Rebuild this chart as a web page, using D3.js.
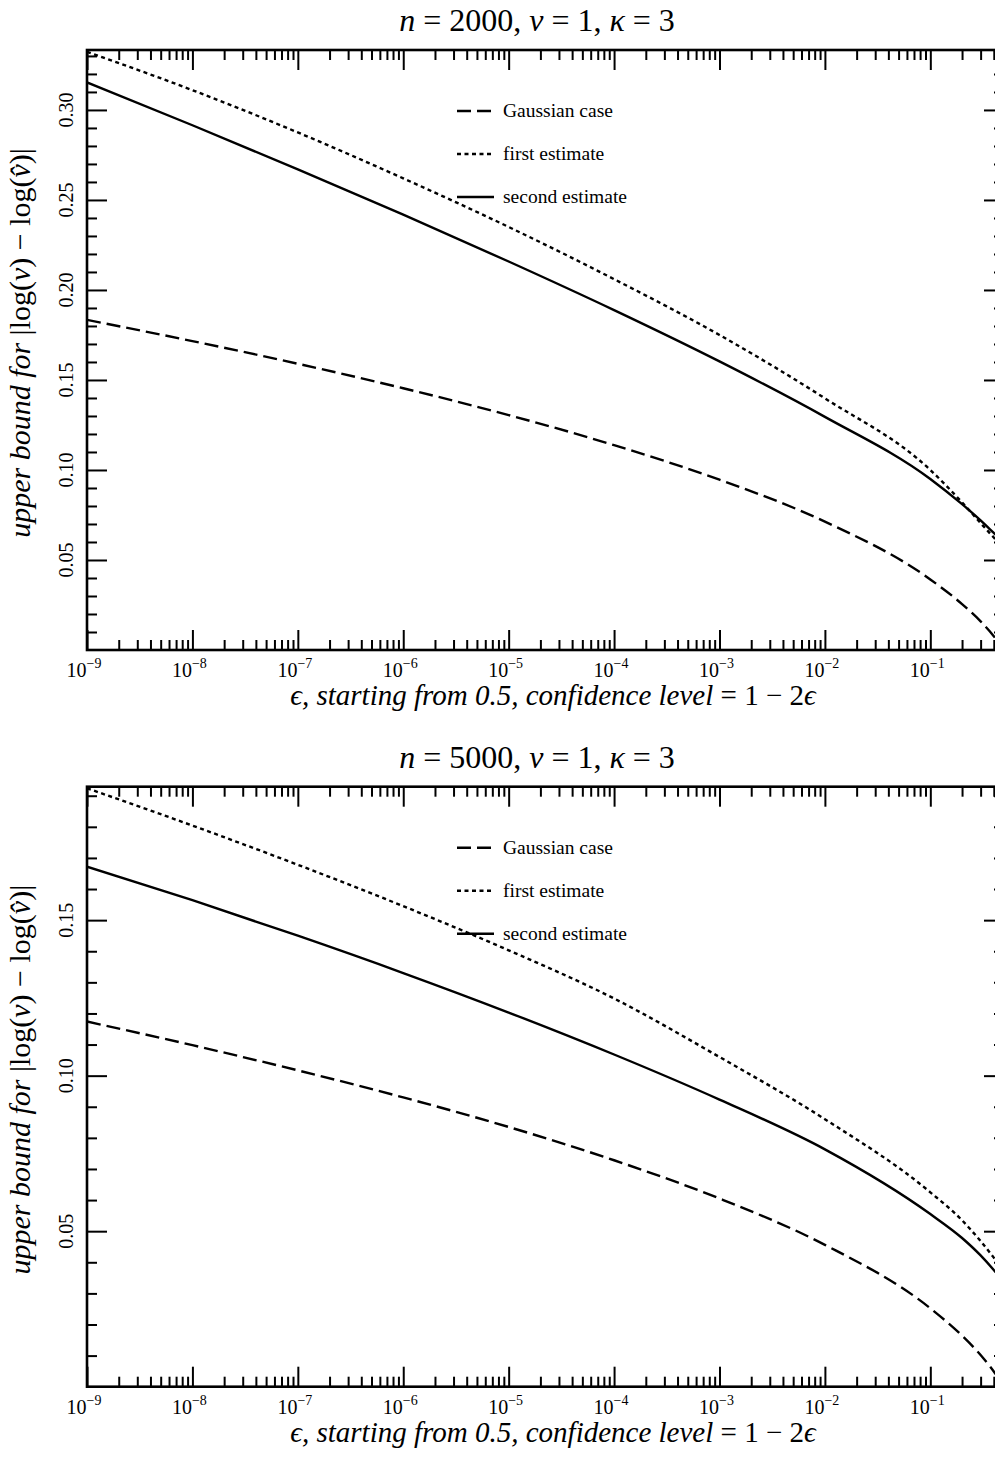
<!DOCTYPE html>
<html><head><meta charset="utf-8">
<script src="https://cdn.jsdelivr.net/npm/d3@7"></script>
<style>
body{margin:0;background:#fff}
svg{display:block;overflow:hidden}
text{font-family:"Liberation Serif","Times New Roman",serif;fill:#000}
</style>
</head><body>
<svg id="chart" width="995" height="1459"></svg>
<script>
// ---- data ----
const epsilon = [1e-9, 1e-8, 1e-7, 1e-6, 1e-5, 1e-4, 1e-3, 1e-2, 1e-1, 0.2, 0.3, 0.4, 0.5];

const gaussian2000 = [0.1834, 0.1716, 0.1590, 0.1454, 0.1305, 0.1138, 0.0946, 0.0713, 0.0392, 0.0255, 0.0159, 0.0077, 0.0003];
const first2000    = [0.3323, 0.3110, 0.2875, 0.2620, 0.2350, 0.2060, 0.1750, 0.1398, 0.1000, 0.0820, 0.0705, 0.0625, 0.0565];
const second2000   = [0.3153, 0.2915, 0.2670, 0.2418, 0.2158, 0.1888, 0.1603, 0.1295, 0.0950, 0.0810, 0.0720, 0.0650, 0.0595];

const gaussian5000 = [0.1174, 0.1098, 0.1017, 0.0930, 0.0835, 0.0728, 0.0605, 0.0456, 0.0252, 0.0164, 0.0102, 0.0049, 0.0003];
const first5000    = [0.1924, 0.1804, 0.1678, 0.1545, 0.1403, 0.1248, 0.1060, 0.0860, 0.0625, 0.0535, 0.0468, 0.0415, 0.0372];
const second5000   = [0.1672, 0.1564, 0.1450, 0.1330, 0.1203, 0.1068, 0.0923, 0.0763, 0.0555, 0.0478, 0.0422, 0.0375, 0.0335];

const xTickExponents = [-9, -8, -7, -6, -5, -4, -3, -2, -1];
const yTicks2000 = [0.05, 0.10, 0.15, 0.20, 0.25, 0.30];
const yTicks5000 = [0.05, 0.10, 0.15];
const yMax2000 = 0.3333;
const yMax5000 = 0.1929;
const sampleSizes = ["2000", "5000"];
const legendLabels = ["Gaussian case", "first estimate", "second estimate"];
const xDomain = [1e-9, 0.5];

// ---- layout ----
const svg = d3.select("#chart");
const L = 87, R = 1004, T = 50, B = 650;
const panelOffsets = [0, 736.7];
const dashes = ["14,6", "4,3.5", null];

function drawPanel(idx, yMax, yTicks, seriesList) {
  const g = svg.append("g").attr("transform", `translate(0,${panelOffsets[idx]})`);
  const x = d3.scaleLog().domain(xDomain).range([L, R]);
  const y = d3.scaleLinear().domain([0, yMax]).range([B, T]);

  const clipId = "clip" + idx;
  g.append("clipPath").attr("id", clipId).append("rect")
    .attr("x", L).attr("y", T).attr("width", R - L).attr("height", B - T);

  // curves
  const line = d3.line().x(d => x(d[0])).y(d => y(d[1])).curve(d3.curveMonotoneX);
  seriesList.forEach((vals, i) => {
    const pts = epsilon.map((e, j) => [e, vals[j]]);
    g.append("path").attr("d", line(pts))
      .attr("clip-path", `url(#${clipId})`)
      .attr("fill", "none").attr("stroke", "#000").attr("stroke-width", 2.4)
      .attr("stroke-dasharray", dashes[i]);
  });

  // ticks
  const xMajor = xTickExponents.map(e => Math.pow(10, e));
  const xMinor = [];
  xTickExponents.forEach(e => { for (let k = 2; k <= 9; k++) { const v = k * Math.pow(10, e); if (v <= 0.5 + 1e-12) xMinor.push(v); } });
  const yMinor = d3.range(1, Math.floor(yMax * 100 + 1e-6) + 1).map(k => k / 100).filter(v => !yTicks.some(t => Math.abs(t - v) < 1e-9));

  const styleAxis = sel => { sel.select(".domain").remove(); sel.selectAll("line").attr("stroke", "#000").attr("stroke-width", 2); };
  g.append("g").attr("transform", `translate(0,${B})`).call(d3.axisBottom(x).tickValues(xMajor).tickSize(-20).tickFormat("")).call(styleAxis);
  g.append("g").attr("transform", `translate(0,${B})`).call(d3.axisBottom(x).tickValues(xMinor).tickSize(-10).tickFormat("")).call(styleAxis);
  g.append("g").attr("transform", `translate(0,${T})`).call(d3.axisTop(x).tickValues(xMajor).tickSize(-20).tickFormat("")).call(styleAxis);
  g.append("g").attr("transform", `translate(0,${T})`).call(d3.axisTop(x).tickValues(xMinor).tickSize(-10).tickFormat("")).call(styleAxis);
  g.append("g").attr("transform", `translate(${L},0)`).call(d3.axisLeft(y).tickValues(yTicks).tickSize(-20).tickFormat("")).call(styleAxis);
  g.append("g").attr("transform", `translate(${L},0)`).call(d3.axisLeft(y).tickValues(yMinor).tickSize(-10).tickFormat("")).call(styleAxis);
  g.append("g").attr("transform", `translate(${R},0)`).call(d3.axisRight(y).tickValues(yTicks).tickSize(-20).tickFormat("")).call(styleAxis);
  g.append("g").attr("transform", `translate(${R},0)`).call(d3.axisRight(y).tickValues(yMinor).tickSize(-10).tickFormat("")).call(styleAxis);

  // frame
  g.append("rect").attr("x", L).attr("y", T).attr("width", R - L).attr("height", B - T)
    .attr("fill", "none").attr("stroke", "#000").attr("stroke-width", 2.6);

  // x tick labels
  xTickExponents.forEach(e => {
    const t = g.append("text").attr("x", x(Math.pow(10, e)) - 3).attr("y", B + 27)
      .attr("text-anchor", "middle").attr("font-size", 20);
    t.append("tspan").text("10");
    t.append("tspan").attr("dy", -9).attr("font-size", 14).text("\u2212" + Math.abs(e));
  });

  // y tick labels (rotated)
  yTicks.forEach(v => {
    g.append("text").attr("transform", `translate(73,${y(v)}) rotate(-90)`)
      .attr("text-anchor", "middle").attr("font-size", 20).text(v.toFixed(2));
  });

  // title
  const title = g.append("text").attr("x", 537).attr("y", 31).attr("text-anchor", "middle").attr("font-size", 32);
  title.append("tspan").attr("font-style", "italic").text("n");
  title.append("tspan").text(" = " + sampleSizes[idx] + ", ");
  title.append("tspan").attr("font-style", "italic").text("v");
  title.append("tspan").text(" = 1, ");
  title.append("tspan").attr("font-style", "italic").text("\u03BA");
  title.append("tspan").text(" = 3");

  // x label
  const xl = g.append("text").attr("x", 553).attr("y", 705).attr("text-anchor", "middle").attr("font-size", 29);
  xl.append("tspan").attr("font-style", "italic").text("\u03F5, starting from 0.5, confidence level");
  xl.append("tspan").text(" = 1 \u2212 2");
  xl.append("tspan").attr("font-style", "italic").text("\u03F5");

  // y label
  const yl = g.append("text").attr("transform", `translate(30,343) rotate(-90)`).attr("text-anchor", "middle").attr("font-size", 30);
  yl.append("tspan").attr("font-style", "italic").text("upper bound for ");
  yl.append("tspan").text("|log(");
  yl.append("tspan").attr("font-style", "italic").text("v");
  yl.append("tspan").text(") \u2212 log(");
  yl.append("tspan").attr("font-style", "italic").text("v\u0302");
  yl.append("tspan").text(")|");

  // legend
  const legRows = [111, 154, 197];
  legendLabels.forEach((lab, i) => {
    g.append("line").attr("x1", 457).attr("x2", 494).attr("y1", legRows[i]).attr("y2", legRows[i])
      .attr("stroke", "#000").attr("stroke-width", 2.6).attr("stroke-dasharray", dashes[i]);
    g.append("text").attr("x", 503).attr("y", legRows[i] + 6).attr("font-size", 19.5).text(lab);
  });
}

drawPanel(0, yMax2000, yTicks2000, [gaussian2000, first2000, second2000]);
drawPanel(1, yMax5000, yTicks5000, [gaussian5000, first5000, second5000]);
</script>
</body></html>
